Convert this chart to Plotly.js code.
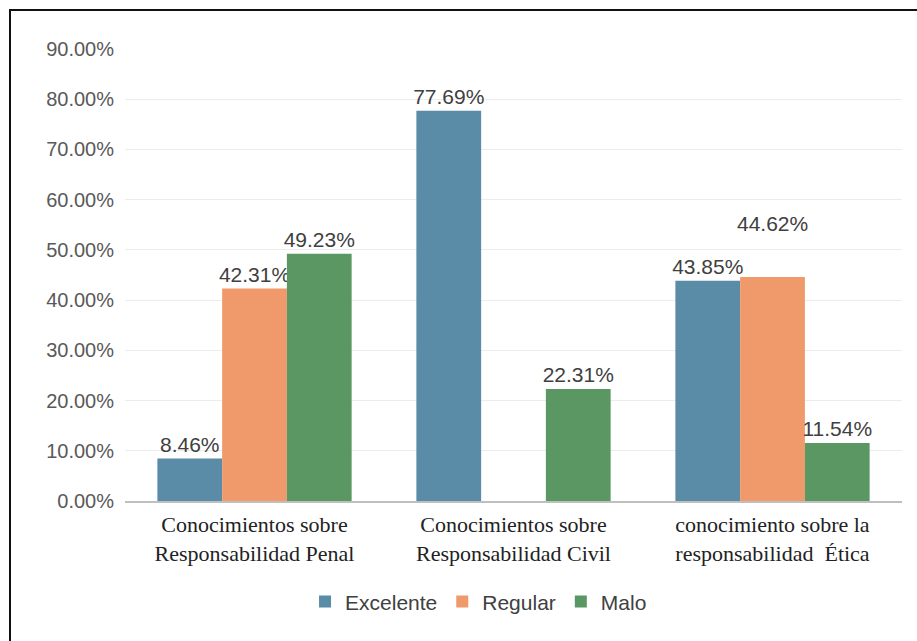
<!DOCTYPE html>
<html>
<head>
<meta charset="utf-8">
<script src="https://cdn.plot.ly/plotly-3.0.1.min.js"></script>
<style>
html,body{margin:0;padding:0;background:#fff;}
#wrap{position:relative;width:917px;height:641px;overflow:hidden;}
#chart{position:absolute;left:0;top:0;width:917px;height:641px;}
#frame{position:absolute;left:9px;top:9px;width:930px;height:660px;border-top:2px solid #111;border-left:2px solid #111;pointer-events:none;}
</style>
</head>
<body>
<div id="wrap"><div id="chart"></div><div id="frame"></div></div>
<script>
const categories = [
  "Conocimientos sobre<br>Responsabilidad Penal",
  "Conocimientos sobre<br>Responsabilidad Civil",
  "conocimiento sobre la<br>responsabilidad\u00a0 Ética"
];
const seriesNames = ["Excelente", "Regular", "Malo"];
const excelente = [8.46, 77.69, 43.85];
const regular = [42.31, 0, 44.62];
const malo = [49.23, 22.31, 11.54];
const colors = ["#5a8ca7", "#f0996b", "#5b9763"];
const yTicks = [0, 10, 20, 30, 40, 50, 60, 70, 80, 90];

const fmt = v => v > 0 ? v.toFixed(2) + "%" : "";
const labelFont = {family: "Liberation Sans, Arial, sans-serif", size: 21, color: "#404040"};

function mk(name, vals, color, textOverride) {
  return {
    type: "bar", name: name, x: categories, y: vals,
    marker: {color: color},
    text: vals.map((v, i) => (textOverride && textOverride[i] !== undefined) ? textOverride[i] : fmt(v)),
    textposition: "outside", textfont: labelFont, cliponaxis: false, constraintext: "none",
    hoverinfo: "skip"
  };
}

const data = [
  mk(seriesNames[0], excelente, colors[0]),
  mk(seriesNames[1], regular, colors[1], {2: ""}),
  mk(seriesNames[2], malo, colors[2])
];

const layout = {
  width: 917, height: 641,
  margin: {l: 125, r: 15, t: 49, b: 140},
  paper_bgcolor: "#fff", plot_bgcolor: "#fff",
  barmode: "group", bargap: 0.25, bargroupgap: 0,
  showlegend: true,
  legend: {orientation: "h", x: 0.455, xanchor: "center", y: -0.223, yanchor: "middle",
           font: {family: "Liberation Sans, Arial, sans-serif", size: 21, color: "#404040"},
           itemwidth: 30, traceorder: "normal"},
  xaxis: {type: "category", showline: true, linecolor: "#bfbfbf", linewidth: 2,
          ticks: "", ticklabelstandoff: 3,
          tickfont: {family: "Liberation Serif, Times New Roman, serif", size: 22, color: "#222"}},
  yaxis: {range: [0, 90], tickvals: yTicks, ticktext: yTicks.map(v => v.toFixed(2) + "%"),
          showgrid: true, gridcolor: "#ececec", gridwidth: 1, zeroline: false, showline: false,
          ticks: "", ticklen: 0, ticklabelstandoff: 10,
          tickfont: {family: "Liberation Sans, Arial, sans-serif", size: 20, color: "#595959"}},
  annotations: [{
    x: categories[2], y: regular[2], xref: "x", yref: "y",
    text: fmt(regular[2]), showarrow: false, yanchor: "bottom", yshift: 40,
    font: labelFont
  }]
};

Plotly.newPlot("chart", data, layout, {displayModeBar: false, staticPlot: true});
</script>
</body>
</html>
